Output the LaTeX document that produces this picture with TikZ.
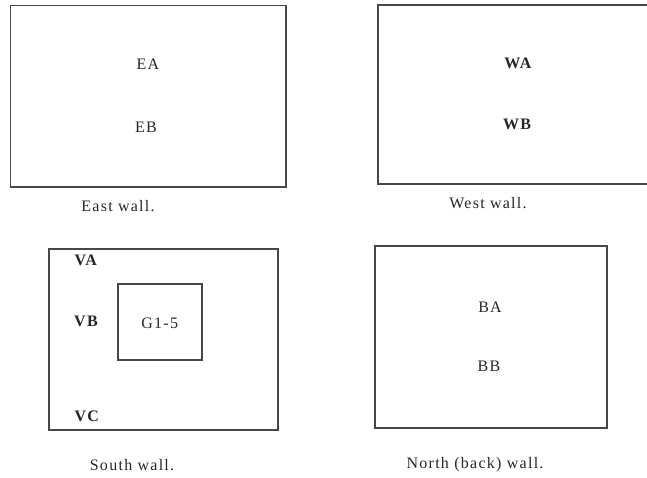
\documentclass[tikz,border=0pt]{standalone}
\usepackage{fontspec}
\setmainfont{Liberation Serif}
\newfontfamily\spaced[LetterSpace=8]{Liberation Serif}
\begin{document}
\begin{tikzpicture}[x=1pt,y=-1pt,
  wall/.style={draw=black!72, line width=1.7pt},
  lbl/.style={inner sep=0pt, text=black!85, font=\fontsize{16}{18}\selectfont\spaced},
  blbl/.style={lbl, font=\fontsize{16}{18}\selectfont\spaced\bfseries},
  walltitle/.style={lbl}]
  \useasboundingbox (0,0) rectangle (647,478);
  \clip (0,0) rectangle (647,478);

  % East wall
  \draw[wall] (10.5,5.5) rectangle (286,187);
  \node[lbl] (ea) at (148,64) {EA};
  \node[lbl] (eb) at (146,127) {EB};
  \node[walltitle] (east) at (118,206) {East wall.};

  % West wall (runs off the right edge)
  \draw[wall] (378,4.7) rectangle (660,184);
  \node[blbl] (wa) at (518,63) {WA};
  \node[blbl] (wb) at (517,124) {WB};
  \node[walltitle] (west) at (488,203) {West wall.};

  % South wall with the inner panel
  \draw[wall] (48.7,249) rectangle (277.7,430);
  \draw[wall] (117.7,284.3) rectangle (201.7,360.3);
  \node[blbl] (va) at (85.7,260) {VA};
  \node[blbl] (vb) at (86,321) {VB};
  \node[blbl] (vc) at (86.7,416) {VC};
  \node[lbl] (g) at (159.7,323) {G1-5};
  \node[walltitle] (south) at (132,465) {South wall.};

  % North (back) wall
  \draw[wall] (375,246) rectangle (606.7,427.7);
  \node[lbl] (ba) at (490,307.7) {BA};
  \node[lbl] (bb) at (489,366) {BB};
  \node[walltitle] (north) at (475,465) {North (back) wall.};
\end{tikzpicture}
\end{document}
